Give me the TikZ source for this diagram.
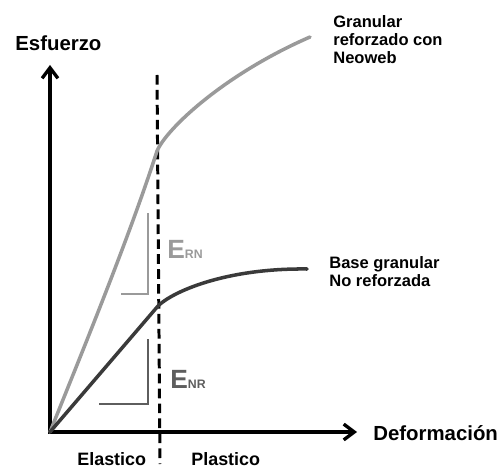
\documentclass[tikz,border=0pt]{standalone}
\usepackage{fontspec}
\setmainfont{Liberation Sans}
\usetikzlibrary{arrows.meta}
\definecolor{reinf}{HTML}{9A9A9A}
\definecolor{plain}{HTML}{3A3A3A}
\definecolor{modnr}{HTML}{5E5E5E}

\begin{document}
\begin{tikzpicture}[x=0.02cm, y=-0.02cm, >={Straight Barb[length=6pt,width=9pt]},
  axis/.style={<->, line width=1.9pt},
  curve/.style={line width=2pt, line cap=round},
  slope/.style={line width=0.8pt},
  divider/.style={line width=1.7pt, dash pattern=on 5.5pt off 3pt},
  axislabel/.style={font=\bfseries\fontsize{11.6}{13}\selectfont, anchor=base west, inner sep=0pt},
  zonelabel/.style={font=\bfseries\fontsize{10.2}{12}\selectfont, anchor=base west, inner sep=0pt},
  curvelabel/.style={font=\bfseries\fontsize{9.4}{10.2}\selectfont, align=left, anchor=north west, inner sep=0pt},
  modlabel/.style={font=\bfseries, anchor=base west, inner sep=0pt}]
\useasboundingbox (0,0) rectangle (503,469);
% axes
\coordinate (O) at (50,432);
\coordinate (ytip) at (50,65);
\coordinate (xtip) at (357,432);
\draw[axis] (ytip) -- (O) -- (xtip);
% elastic limit
\coordinate (dtop) at (157,75);
\coordinate (dbot) at (160,464);
\draw[divider] (dtop) -- (dbot);
% curves
\coordinate (A) at (157,151);
\coordinate (Aend) at (310,37);
\coordinate (B) at (158,306);
\coordinate (Bend) at (307,269);
\draw[curve, reinf] (O) .. controls (85,345) and (130,235) .. (A) .. controls (167,128) and (225,74) .. (Aend);
\draw[curve, plain] (O) -- (B) .. controls (172,292) and (225,268) .. (Bend);
% slope marks
\draw[slope, reinf] (121,294) -- (148,294) -- (148,213);
\draw[slope, modnr] (99,404) -- (148,404) -- (148,339);
\node[modlabel, reinf] (ern) at (167,258) {\fontsize{15}{15}\selectfont E\fontsize{7}{7}\selectfont RN};
\node[modlabel, modnr] (enr) at (170,388) {\fontsize{15}{15}\selectfont E\fontsize{7}{7}\selectfont NR};
% labels
\node[axislabel] (esf) at (15,51) {Esfuerzo};
\node[axislabel] (def) at (373,440) {Deformación};
\node[zonelabel] (ela) at (77,465) {Elastico};
\node[zonelabel] (pla) at (191,465) {Plastico};
\node[curvelabel] (gran) at (333,15) {Granular\\reforzado con\\Neoweb};
\node[curvelabel] (base) at (329,256) {Base granular\\No reforzada};
\end{tikzpicture}
\end{document}
